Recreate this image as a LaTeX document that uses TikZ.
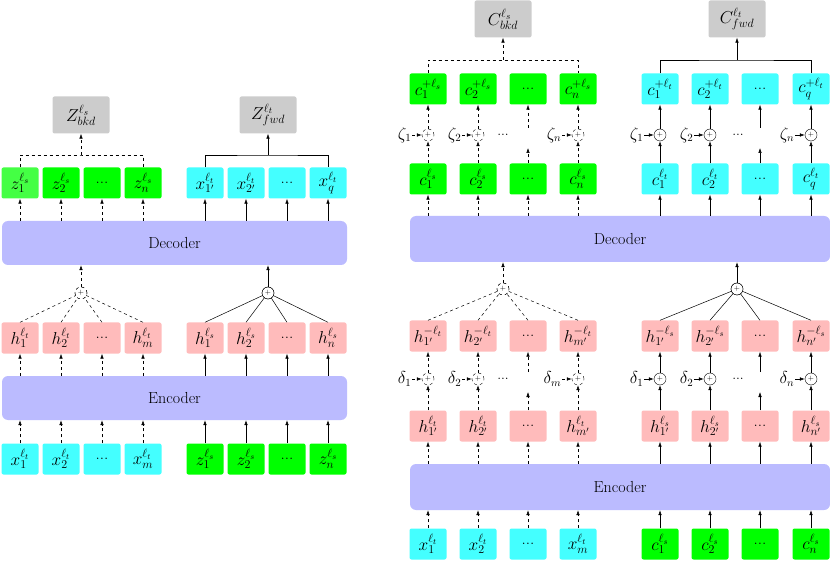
\documentclass[tikz,border=0pt]{standalone}
\usetikzlibrary{arrows.meta}
\definecolor{cg}{HTML}{00FF00}
\definecolor{cgl}{HTML}{44FF44}
\definecolor{cc}{HTML}{44FFFF}
\definecolor{cp}{HTML}{FFBBBB}
\definecolor{cl}{HTML}{BBBBFF}
\definecolor{cy}{HTML}{CCCCCC}
\tikzset{
 cell/.style={rounded corners=2pt,minimum width=37pt,minimum height=31pt,inner sep=0pt,font=\fontsize{17}{19}\selectfont},
 gbox/.style={cell,fill=cy,minimum width=57pt,minimum height=37pt,font=\fontsize{18}{20}\selectfont},
 big/.style={rounded corners=6pt,fill=cl,minimum height=44pt,inner sep=0pt,font=\fontsize{16}{18}\selectfont},
 pl/.style={circle,draw,inner sep=0pt,minimum size=12pt,font=\scriptsize},
 dpl/.style={pl,dashed},
 lab/.style={font=\fontsize{16}{18}\selectfont,inner sep=0.5pt,anchor=east},
 dots/.style={font=\fontsize{14}{16}\selectfont},
 ar/.style={-{Latex[length=5pt,width=3.5pt]},line width=0.5pt},
 dar/.style={ar,dashed},
 ln/.style={line width=0.5pt},
 dln/.style={ln,dashed},
}
\begin{document}
\begin{tikzpicture}[x=1pt,y=-1pt]
\useasboundingbox (0,0) rectangle (830,561);
% ===== LEFT PANEL =====
\node[gbox] (Zb) at (81,115) {$Z^{\ell_s}_{bkd}$};
\node[gbox] (Zf) at (268,115) {$Z^{\ell_t}_{fwd}$};
\foreach \x/\n/\t/\c in {20/lz1/{$z_1^{\ell_s}$}/cgl,61/lz2/{$z_2^{\ell_s}$}/cg,102/lz3/{...}/cg,143/lz4/{$z_n^{\ell_s}$}/cg,
 205/lx1/{$x_{1'}^{\ell_t}$}/cc,246/lx2/{$x_{2'}^{\ell_t}$}/cc,287/lx3/{...}/cc,328/lx4/{$x_q^{\ell_t}$}/cc}
 \node[cell,fill=\c] (\n) at (\x,183) {\t};
\node[big,minimum width=345pt] (Ldec) at (174.5,243) {Decoder};
\node[dpl] (Lp1) at (81,293) {+};
\node[pl] (Lp2) at (268,293) {+};
\foreach \x/\n/\t in {20/lh1/{$h_1^{\ell_t}$},61/lh2/{$h_2^{\ell_t}$},102/lh3/{...},143/lh4/{$h_m^{\ell_t}$},
 205/lg1/{$h_1^{\ell_s}$},246/lg2/{$h_2^{\ell_s}$},287/lg3/{...},328/lg4/{$h_n^{\ell_s}$}}
 \node[cell,fill=cp] (\n) at (\x,338) {\t};
\node[big,minimum width=345pt] (Lenc) at (174.5,398) {Encoder};
\foreach \x/\n/\t/\c in {20/lb1/{$x_1^{\ell_t}$}/cc,61/lb2/{$x_2^{\ell_t}$}/cc,102/lb3/{...}/cc,143/lb4/{$x_m^{\ell_t}$}/cc,
 205/lb5/{$z_1^{\ell_s}$}/cg,246/lb6/{$z_2^{\ell_s}$}/cg,287/lb7/{...}/cg,328/lb8/{$z_n^{\ell_s}$}/cg}
 \node[cell,fill=\c] (\n) at (\x,459) {\t};
% connectors left
\draw[dln] (lz1.north) |- (81,155) -| (lz4.north);
\draw[dar] (81,155) -- (Zb.south);
\draw[ln] (lx1.north) |- (268,155) -| (lx4.north);
\draw[ar] (268,155) -- (Zf.south);
\foreach \n in {lz1,lz2,lz3,lz4} \draw[dar] (Ldec.north -| \n) -- (\n.south);
\foreach \n in {lx1,lx2,lx3,lx4} \draw[ar] (Ldec.north -| \n) -- (\n.south);
\draw[dar] (Lp1) -- (Ldec.south -| Lp1);
\draw[ar] (Lp2) -- (Ldec.south -| Lp2);
\foreach \n in {lh1,lh2,lh3,lh4} \draw[dln] (\n.north) -- (Lp1.center);
\foreach \n in {lg1,lg2,lg3,lg4} \draw[ln] (\n.north) -- (Lp2.center);
\fill[white] (Lp1) circle (5.7pt); \node[dpl] at (Lp1) {+};
\fill[white] (Lp2) circle (5.7pt); \node[pl] at (Lp2) {+};
\foreach \n in {lh1,lh2,lh3,lh4} \draw[dar] (Lenc.north -| \n) -- (\n.south);
\foreach \n in {lg1,lg2,lg3,lg4} \draw[ar] (Lenc.north -| \n) -- (\n.south);
\foreach \n in {lb1,lb2,lb3,lb4} \draw[dar] (\n.north) -- (Lenc.south -| \n);
\foreach \n in {lb5,lb6,lb7,lb8} \draw[ar] (\n.north) -- (Lenc.south -| \n);
% ===== RIGHT PANEL =====
\node[gbox] (Cb) at (503,19) {$C^{\ell_s}_{bkd}$};
\node[gbox] (Cf) at (737,19) {$C^{\ell_t}_{fwd}$};
\foreach \x/\n/\t/\c in {428/ru1/{$c_1^{+\ell_s}$}/cg,478/ru2/{$c_2^{+\ell_s}$}/cg,528/ru3/{...}/cg,578/ru4/{$c_n^{+\ell_s}$}/cg,
 660/ru5/{$c_1^{+\ell_t}$}/cc,710/ru6/{$c_2^{+\ell_t}$}/cc,760/ru7/{...}/cc,811/ru8/{$c_q^{+\ell_t}$}/cc}
 \node[cell,fill=\c] (\n) at (\x,89) {\t};
\foreach \x/\n/\t/\c in {428/rc1/{$c_1^{\ell_s}$}/cg,478/rc2/{$c_2^{\ell_s}$}/cg,528/rc3/{...}/cg,578/rc4/{$c_n^{\ell_s}$}/cg,
 660/rc5/{$c_1^{\ell_t}$}/cc,710/rc6/{$c_2^{\ell_t}$}/cc,760/rc7/{...}/cc,811/rc8/{$c_q^{\ell_t}$}/cc}
 \node[cell,fill=\c] (\n) at (\x,179) {\t};
\node[big,minimum width=420pt,minimum height=46pt] (Rdec) at (620,239) {Decoder};
\node[dpl] (Rp1) at (503,289) {+};
\node[pl] (Rp2) at (737,289) {+};
\foreach \x/\n/\t in {428/rm1/{$h_{1'}^{-\ell_t}$},478/rm2/{$h_{2'}^{-\ell_t}$},528/rm3/{...},578/rm4/{$h_{m'}^{-\ell_t}$},
 660/rm5/{$h_{1'}^{-\ell_s}$},710/rm6/{$h_{2'}^{-\ell_s}$},760/rm7/{...},811/rm8/{$h_{n'}^{-\ell_s}$}}
 \node[cell,fill=cp] (\n) at (\x,336) {\t};
\foreach \x/\n/\t in {428/rh1/{$h_{1'}^{\ell_t}$},478/rh2/{$h_{2'}^{\ell_t}$},528/rh3/{...},578/rh4/{$h_{m'}^{\ell_t}$},
 660/rh5/{$h_{1'}^{\ell_s}$},710/rh6/{$h_{2'}^{\ell_s}$},760/rh7/{...},811/rh8/{$h_{n'}^{\ell_s}$}}
 \node[cell,fill=cp] (\n) at (\x,426) {\t};
\node[big,minimum width=420pt,minimum height=46pt] (Renc) at (620,487) {Encoder};
\foreach \x/\n/\t/\c in {428/rb1/{$x_1^{\ell_t}$}/cc,478/rb2/{$x_2^{\ell_t}$}/cc,528/rb3/{...}/cc,578/rb4/{$x_m^{\ell_t}$}/cc,
 660/rb5/{$c_1^{\ell_s}$}/cg,710/rb6/{$c_2^{\ell_s}$}/cg,760/rb7/{...}/cg,811/rb8/{$c_n^{\ell_s}$}/cg}
 \node[cell,fill=\c] (\n) at (\x,544) {\t};
% zeta / delta circles
\foreach \x/\n/\s/\l in {428/z1/dpl/\zeta_1,478/z2/dpl/\zeta_2,578/z4/dpl/\zeta_n,660/z5/pl/\zeta_1,710/z6/pl/\zeta_2,811/z8/pl/\zeta_n}{
 \node[\s] (\n) at (\x,135) {+};
 \node[lab] (\n l) at (\x-16,135) {$\l$};
}
\foreach \x/\n/\s/\l in {428/d1/dpl/\delta_1,478/d2/dpl/\delta_2,578/d4/dpl/\delta_m,660/d5/pl/\delta_1,710/d6/pl/\delta_2,811/d8/pl/\delta_n}{
 \node[\s] (\n) at (\x,379) {+};
 \node[lab] (\n l) at (\x-16,379) {$\l$};
}
\foreach \n in {z1,z2,z4,d1,d2,d4} \draw[dar] (\n l) -- (\n);
\foreach \n in {z5,z6,z8,d5,d6,d8} \draw[ar] (\n l) -- (\n);
\node[dots] (e1) at (503,135) {...}; \node[dots] (e2) at (738,135) {...};
\node[dots] (e3) at (503,379) {...}; \node[dots] (e4) at (738,379) {...};
% vertical chains
\foreach \a/\b/\c in {rc1/z1/ru1,rc2/z2/ru2,rc4/z4/ru4,rh1/d1/rm1,rh2/d2/rm2,rh4/d4/rm4}{
 \draw[dar] (\a.north) -- (\b); \draw[dar] (\b) -- (\c.south);}
\foreach \a/\b/\c in {rc5/z5/ru5,rc6/z6/ru6,rc8/z8/ru8,rh5/d5/rm5,rh6/d6/rm6,rh8/d8/rm8}{
 \draw[ar] (\a.north) -- (\b); \draw[ar] (\b) -- (\c.south);}
\draw[dar] (rc3.north) -- (528,148); \draw[dar] (528,128) -- (ru3.south);
\draw[ar] (rc7.north) -- (760,148); \draw[ar] (760,128) -- (ru7.south);
\draw[dar] (rh3.north) -- (528,392); \draw[dar] (528,372) -- (rm3.south);
\draw[ar] (rh7.north) -- (760,392); \draw[ar] (760,372) -- (rm7.south);
% top collectors
\draw[dln] (ru1.north) |- (503,60) -| (ru4.north);
\draw[dar] (503,60) -- (Cb.south);
\draw[ln] (ru5.north) |- (737,60) -| (ru8.north);
\draw[ar] (737,60) -- (Cf.south);
\foreach \n in {rc1,rc2,rc3,rc4} \draw[dar] (Rdec.north -| \n) -- (\n.south);
\foreach \n in {rc5,rc6,rc7,rc8} \draw[ar] (Rdec.north -| \n) -- (\n.south);
\draw[dar] (Rp1) -- (Rdec.south -| Rp1);
\draw[ar] (Rp2) -- (Rdec.south -| Rp2);
\foreach \n in {rm1,rm2,rm3,rm4} \draw[dln] (\n.north) -- (Rp1.center);
\foreach \n in {rm5,rm6,rm7,rm8} \draw[ln] (\n.north) -- (Rp2.center);
\fill[white] (Rp1) circle (5.7pt); \node[dpl] at (Rp1) {+};
\fill[white] (Rp2) circle (5.7pt); \node[pl] at (Rp2) {+};
\foreach \n in {rh1,rh2,rh3,rh4} \draw[dar] (Renc.north -| \n) -- (\n.south);
\foreach \n in {rh5,rh6,rh7,rh8} \draw[ar] (Renc.north -| \n) -- (\n.south);
\foreach \n in {rb1,rb2,rb3,rb4} \draw[dar] (\n.north) -- (Renc.south -| \n);
\foreach \n in {rb5,rb6,rb7,rb8} \draw[ar] (\n.north) -- (Renc.south -| \n);
\end{tikzpicture}
\end{document}
